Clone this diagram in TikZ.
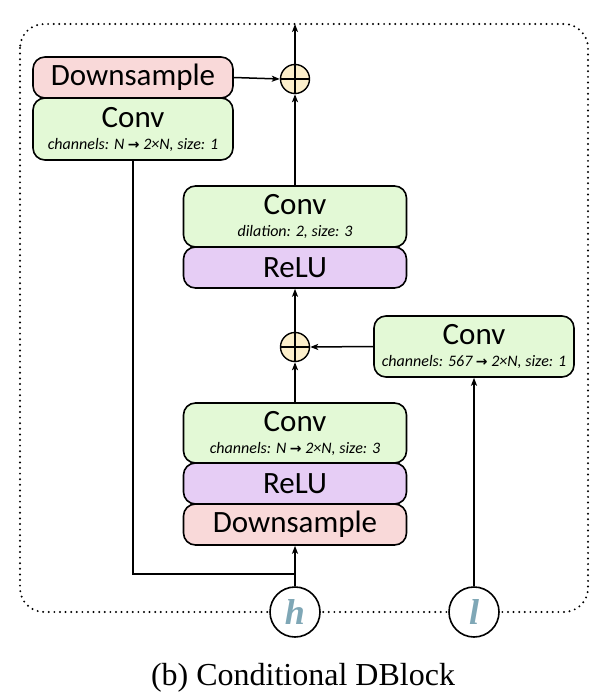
\documentclass[tikz,border=0pt]{standalone}
\usepackage{fontspec}
\setmainfont{Carlito}
\newfontfamily\capfont{Liberation Serif}
\newfontfamily\arrfont{DejaVu Sans}
\usetikzlibrary{arrows.meta}
\definecolor{dsfill}{HTML}{F9D9D9}
\definecolor{convfill}{HTML}{E3F9D6}
\definecolor{relufill}{HTML}{E6CDF5}
\definecolor{plusfill}{HTML}{FCEFCB}
\definecolor{hlcol}{HTML}{7FA7B6}
\newcommand{\subtxt}[1]{{\fontsize{16}{19}\selectfont\itshape #1}}
\newcommand{\rarr}{{\arrfont\bfseries\fontsize{14}{14}\selectfont →}}
\tikzset{
  box/.style={draw=black, line width=1.6pt, rounded corners=12pt, inner sep=0pt,
    align=center, minimum width=223pt, font=\fontsize{31}{21}\selectfont},
  dsbox/.style={box, fill=dsfill, minimum height=41pt},
  convbox/.style={box, fill=convfill, minimum height=61pt},
  relubox/.style={box, fill=relufill, minimum height=41pt},
  plusnode/.style={circle, draw=black, line width=1.4pt, fill=plusfill, minimum size=29pt, inner sep=0pt,
    path picture={\draw[line width=1.4pt] (path picture bounding box.north) -- (path picture bounding box.south)
      (path picture bounding box.west) -- (path picture bounding box.east);}},
  inpnode/.style={circle, draw=black, line width=1.6pt, fill=white, minimum size=50pt, inner sep=0pt,
    text=hlcol, font=\capfont\bfseries\itshape\fontsize{36}{36}\selectfont},
  arr/.style={-{Stealth[length=8pt,width=6pt,inset=2pt]}, line width=1.5pt},
  conn/.style={line width=1.5pt},
  border/.style={line width=2.2pt, dash pattern=on 0pt off 5.6pt, line cap=round, rounded corners=24pt}
}
\begin{document}
\begin{tikzpicture}[x=1pt, y=-1pt]
\useasboundingbox (0,0) rectangle (598,700);
\draw[border] (20,24) rectangle (588,612);
% left branch
\node[dsbox, minimum width=200pt] (ds1) at (133,77.5) {Downsample};
\node[convbox, minimum width=200pt, minimum height=62pt] (conv1) at (133,129) {Conv\\[1pt]\subtxt{channels: N \rarr\ 2×N, size: 1}};
\node[plusnode] (plus1) at (295,79) {};
% middle column
\node[convbox] (conv2) at (295,216.5) {Conv\\[1pt]\subtxt{dilation: 2, size: 3}};
\node[relubox] (relu2) at (295,267.5) {ReLU};
\node[plusnode] (plus2) at (295,347) {};
\node[convbox, minimum width=200pt] (conv3) at (474,346.5) {Conv\\[1pt]\subtxt{channels: 567 \rarr\ 2×N, size: 1}};
\node[convbox, minimum height=60pt] (conv4) at (295,433) {Conv\\[1pt]\subtxt{channels: N \rarr\ 2×N, size: 3}};
\node[relubox] (relu4) at (295,483.5) {ReLU};
\node[dsbox] (ds4) at (295,524.5) {Downsample};
% inputs
\node[inpnode] (h) at (295,612) {h};
\node[inpnode] (l) at (474,612) {l};
\coordinate (top) at (295,24);
\coordinate (j) at (295,574);
% connectors
\draw[arr] (ds1.east) -- (plus1.west);
\draw[arr] (conv2.north) -- (plus1.south);
\draw[arr] (plus1.north) -- (top);
\draw[arr] (plus2.north) -- (relu2.south);
\draw[arr] (conv3.west) -- (plus2.east);
\draw[arr] (conv4.north) -- (plus2.south);
\draw[arr] (h.north) -- (ds4.south);
\draw[arr] (l.north) -- (conv3.south);
\draw[conn] (j) -| (conv1.south);
% caption
\node[anchor=base, font=\capfont\fontsize{32}{36}\selectfont, inner sep=0pt] (cap) at (303,685) {(b) Conditional DBlock};
\end{tikzpicture}
\end{document}
